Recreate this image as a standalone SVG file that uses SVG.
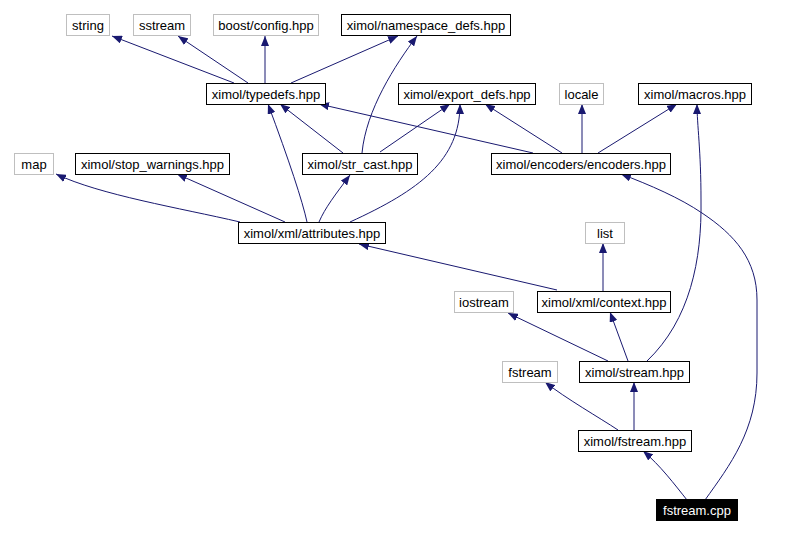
<svg xmlns="http://www.w3.org/2000/svg" width="785" height="534" viewBox="0 0 785 534">
<style>
.n rect{fill:#fff;stroke:#000;stroke-width:1}
.g rect{stroke:#bfbfbf}
.n text{font-family:"Liberation Sans",Arial,sans-serif;font-size:13px;text-anchor:middle;fill:#000}
.m rect{fill:#000}
.m text{fill:#fff}
#edges path{fill:none;stroke:#191970;stroke-width:1;marker-end:url(#ah)}
</style>
<defs>
<marker id="ah" viewBox="0 0 10 8" refX="10" refY="4" markerWidth="10" markerHeight="8" markerUnits="userSpaceOnUse" orient="auto">
<path d="M0,0 L10,4 L0,8 z" fill="#191970"/>
</marker>
</defs>
<rect width="785" height="534" fill="#fff"/>
<g id="edges">
<path d="M234,83 L112,36"/>
<path d="M248,83 L178,36"/>
<path d="M265,83 L265,36"/>
<path d="M291,83 L398,36"/>
<path d="M362,153 C366,110 395,65 417,36"/>
<path d="M343,153 L280,104"/>
<path d="M380,152 L450,104"/>
<path d="M533,153 L319,104"/>
<path d="M562,153 L485,104"/>
<path d="M582,153 L582,104"/>
<path d="M598,153 L677,104"/>
<path d="M240,222 C180,208 100,195 56,174"/>
<path d="M285,222 L177,174"/>
<path d="M307,222 Q300,190 268,104"/>
<path d="M319,222 C325,208 335,195 350,175"/>
<path d="M350,222 C420,190 460,160 460,104"/>
<path d="M557,290 L359,244"/>
<path d="M603,291 L603,243"/>
<path d="M608,361 L508,313"/>
<path d="M628,361 L610,312"/>
<path d="M647,361 C690,320 702,260 701,200 C701,150 697,125 697,104"/>
<path d="M618,430 C600,418 565,398 545,382"/>
<path d="M634,430 L634,382"/>
<path d="M687,500 C675,485 660,465 643,451"/>
<path d="M705,500 C730,465 757,430 757,373 L757,300 C757,260 735,235 702,213 C680,198 650,185 621,174"/>
</g>
<g id="string" class="n g"><rect x="66.5" y="14.5" width="43" height="21"/><text x="88" y="30">string</text></g>
<g id="sstream" class="n g"><rect x="133.5" y="14.5" width="57" height="21"/><text x="162" y="30">sstream</text></g>
<g id="boost_config" class="n g"><rect x="213.5" y="14.5" width="105" height="21"/><text x="266" y="30">boost/config.hpp</text></g>
<g id="namespace_defs" class="n"><rect x="341.5" y="14.5" width="169" height="21"/><text x="426" y="30">ximol/namespace_defs.hpp</text></g>
<g id="typedefs" class="n"><rect x="206.5" y="83.5" width="119" height="21"/><text x="266" y="99">ximol/typedefs.hpp</text></g>
<g id="export_defs" class="n"><rect x="398.5" y="83.5" width="137" height="21"/><text x="467" y="99">ximol/export_defs.hpp</text></g>
<g id="locale" class="n g"><rect x="559.5" y="83.5" width="44" height="21"/><text x="581.5" y="99">locale</text></g>
<g id="macros" class="n"><rect x="638.5" y="83.5" width="113" height="21"/><text x="695" y="99">ximol/macros.hpp</text></g>
<g id="map" class="n g"><rect x="14.5" y="153.5" width="39" height="21"/><text x="34" y="169">map</text></g>
<g id="stop_warnings" class="n"><rect x="75.5" y="153.5" width="154" height="21"/><text x="152.5" y="169">ximol/stop_warnings.hpp</text></g>
<g id="str_cast" class="n"><rect x="302.5" y="153.5" width="115" height="21"/><text x="360" y="169">ximol/str_cast.hpp</text></g>
<g id="encoders" class="n"><rect x="491.5" y="153.5" width="179" height="21"/><text x="581" y="169">ximol/encoders/encoders.hpp</text></g>
<g id="attributes" class="n"><rect x="238.5" y="222.5" width="147" height="21"/><text x="312" y="238">ximol/xml/attributes.hpp</text></g>
<g id="list" class="n g"><rect x="585.5" y="222.5" width="39" height="21"/><text x="605" y="238">list</text></g>
<g id="iostream" class="n g"><rect x="454.5" y="291.5" width="59" height="21"/><text x="484" y="307">iostream</text></g>
<g id="context" class="n"><rect x="537.5" y="291.5" width="133" height="21"/><text x="604" y="307">ximol/xml/context.hpp</text></g>
<g id="fstream" class="n g"><rect x="502.5" y="361.5" width="55" height="21"/><text x="530" y="377">fstream</text></g>
<g id="stream" class="n"><rect x="579.5" y="361.5" width="110" height="21"/><text x="634.5" y="377">ximol/stream.hpp</text></g>
<g id="fstream_hpp" class="n"><rect x="578.5" y="430.5" width="113" height="21"/><text x="635" y="446">ximol/fstream.hpp</text></g>
<g id="fstream_cpp" class="n m"><rect x="656.5" y="499.5" width="81" height="21"/><text x="697" y="515">fstream.cpp</text></g>
</svg>
